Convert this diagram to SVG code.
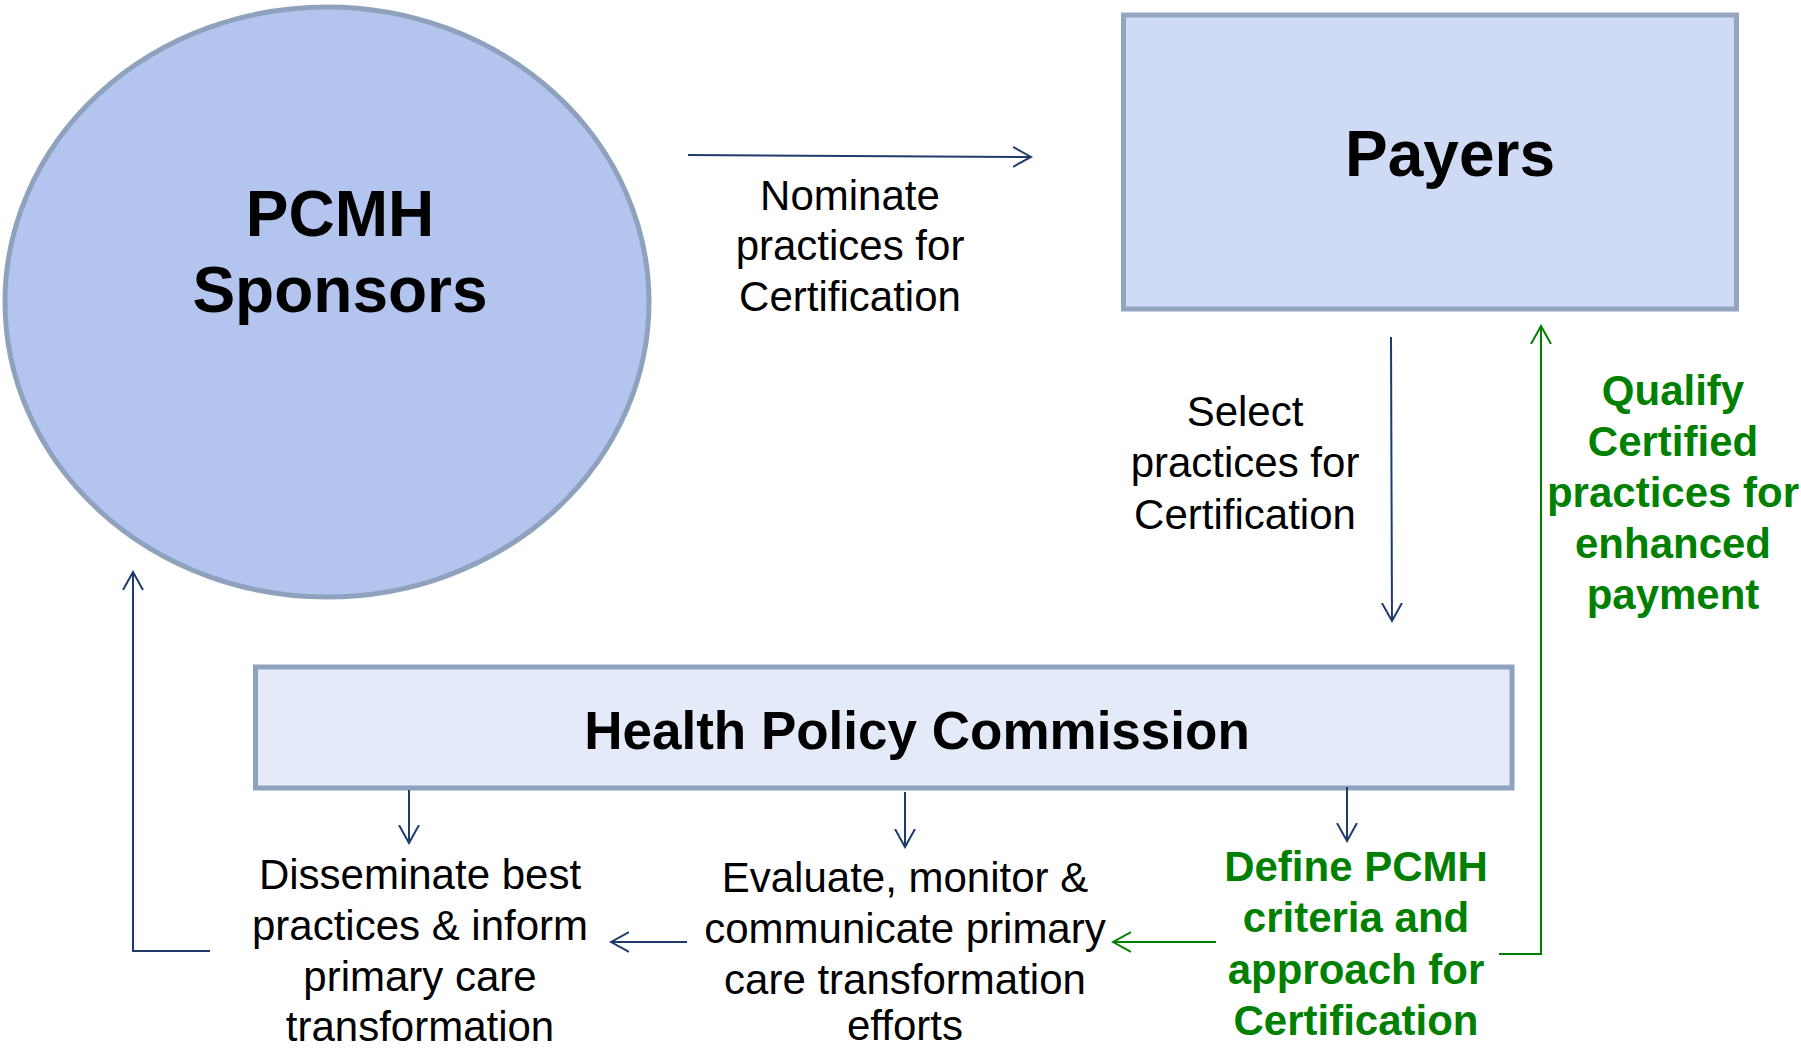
<svg xmlns="http://www.w3.org/2000/svg" width="1801" height="1049" viewBox="0 0 1801 1049">
<defs>
<style>
.lbl{font-family:"Liberation Sans",Arial,sans-serif;font-size:42px;fill:#000;text-anchor:middle}
.grn{font-family:"Liberation Sans",Arial,sans-serif;font-size:42px;font-weight:bold;fill:#008000;text-anchor:middle}
.ttl{font-family:"Liberation Sans",Arial,sans-serif;font-weight:bold;fill:#000;text-anchor:middle}
.nv{fill:none;stroke:#1f3b6e;stroke-width:2}
.gl{fill:none;stroke:#008000;stroke-width:2}
</style>
<marker id="an" viewBox="0 0 20 22" refX="18" refY="11" markerWidth="20" markerHeight="22" markerUnits="userSpaceOnUse" orient="auto">
<path d="M0,1 L18,11 L0,21" fill="none" stroke="#1f3b6e" stroke-width="2"/>
</marker>
<marker id="ag" viewBox="0 0 20 22" refX="18" refY="11" markerWidth="20" markerHeight="22" markerUnits="userSpaceOnUse" orient="auto">
<path d="M0,1 L18,11 L0,21" fill="none" stroke="#008000" stroke-width="2"/>
</marker>
</defs>
<rect width="1801" height="1049" fill="#fff"/>
<g id="sponsors">
<ellipse cx="327" cy="302" rx="322" ry="295" fill="#b3c5ef" stroke="#8fa2bd" stroke-width="5"/>
<text class="ttl" x="340" y="236" font-size="64">PCMH</text>
<text class="ttl" x="340" y="312" font-size="64">Sponsors</text>
</g>
<g id="payers">
<rect x="1123.5" y="15" width="613" height="294" fill="#cfdaf4" stroke="#94a6bf" stroke-width="5"/>
<text class="ttl" x="1450" y="176" font-size="64">Payers</text>
</g>
<g id="hpc">
<rect x="255.5" y="667" width="1256.5" height="121" fill="#e4eaf8" stroke="#8fa2bd" stroke-width="5"/>
<text class="ttl" x="917" y="749" font-size="53">Health Policy Commission</text>
</g>
<g id="disseminate">
<text class="lbl" x="420" y="889">Disseminate best</text>
<text class="lbl" x="420" y="940">practices &amp; inform</text>
<text class="lbl" x="420" y="991">primary care</text>
<text class="lbl" x="420" y="1041">transformation</text>
</g>
<g id="evaluate">
<text class="lbl" x="905" y="892">Evaluate, monitor &amp;</text>
<text class="lbl" x="905" y="943">communicate primary</text>
<text class="lbl" x="905" y="994">care transformation</text>
<text class="lbl" x="905" y="1040">efforts</text>
</g>
<g id="define">
<text class="grn" x="1356" y="881">Define PCMH</text>
<text class="grn" x="1356" y="932">criteria and</text>
<text class="grn" x="1356" y="984">approach for</text>
<text class="grn" x="1356" y="1035">Certification</text>
</g>
<g id="connectors">
<path class="nv" d="M688,155 L1031,157" marker-end="url(#an)"/>
<path class="nv" d="M1391,337 L1392,621" marker-end="url(#an)"/>
<path class="gl" d="M1499,954 H1541 V326" marker-end="url(#ag)"/>
<path class="nv" d="M409,790 V843" marker-end="url(#an)"/>
<path class="nv" d="M905,792 V847" marker-end="url(#an)"/>
<path class="nv" d="M1347,787 V841" marker-end="url(#an)"/>
<path class="nv" d="M687,942 H611" marker-end="url(#an)"/>
<path class="gl" d="M1216,942 H1113" marker-end="url(#ag)"/>
<path class="nv" d="M210,951 H133 V572" marker-end="url(#an)"/>
</g>
<g id="labels">
<text class="lbl" x="850" y="210">Nominate</text>
<text class="lbl" x="850" y="260">practices for</text>
<text class="lbl" x="850" y="311">Certification</text>
<text class="lbl" x="1245" y="426">Select</text>
<text class="lbl" x="1245" y="477">practices for</text>
<text class="lbl" x="1245" y="529">Certification</text>
<text class="grn" x="1673" y="405">Qualify</text>
<text class="grn" x="1673" y="456">Certified</text>
<text class="grn" x="1673" y="507">practices for</text>
<text class="grn" x="1673" y="558">enhanced</text>
<text class="grn" x="1673" y="609">payment</text>
</g>
</svg>
